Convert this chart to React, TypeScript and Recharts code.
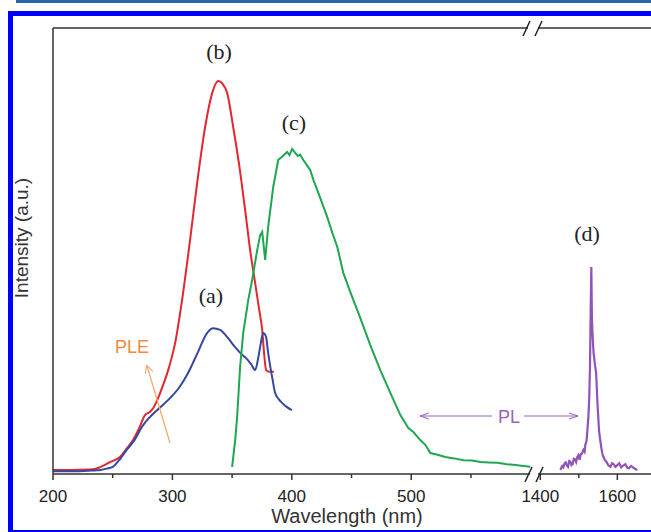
import React from "react";
import { LineChart, Line, XAxis, YAxis } from "recharts";

// wavelength (nm) / intensity (a.u., 0-100)
const redWl = [200, 215, 230, 235, 240, 248, 256, 262, 267, 272, 277, 281, 284, 288, 292, 296, 302.3, 308.1, 314.8, 320.7, 327.4, 333.3, 338.3, 342, 345.9, 350.9, 355.9, 360.9, 365.1, 369.3, 372.7, 375.2, 376.9, 378.5, 381, 385];
const redInt = [0.9, 0.9, 1.0, 1.1, 1.6, 2.7, 3.8, 5.8, 7.6, 10.2, 13.2, 13.9, 14.8, 17.0, 19.8, 22.9, 29.4, 39.0, 52.5, 65.2, 77.8, 85.4, 88.1, 87.5, 85.4, 77.8, 69.3, 59.2, 50.2, 42.8, 36.8, 32.3, 26.7, 23.3, 22.9, 22.9];

const blueWl = [200, 220, 235, 240, 245, 250, 256, 262, 268, 275, 282, 290, 298, 306, 313, 321, 329, 334, 340, 344, 348, 352, 357, 363, 366, 369.3, 371.5, 373.5, 376, 378.5, 380, 382, 384, 386, 389, 392, 396, 400];
const blueInt = [0.6, 0.6, 0.8, 0.9, 1.2, 1.6, 3.3, 5.5, 7.5, 10.8, 13.0, 15.0, 17.0, 19.5, 22.6, 27.1, 31.6, 32.7, 32.3, 31.3, 30.0, 28.6, 27.1, 25.6, 24.6, 23.3, 25.5, 28.5, 31.6, 30.7, 27.5, 24.0, 21.0, 18.2, 16.8, 15.9, 15.0, 14.3];

const greenWl = [350, 352.6, 354.2, 356.7, 359.3, 363.5, 366.8, 371, 373.5, 375.2, 377.7, 380.2, 384.4, 388.6, 392, 396.1, 398, 400.3, 402.8, 405, 407, 409.6, 412.5, 415.4, 418, 421.3, 425, 429.7, 434, 438.1, 443.1, 449, 457.3, 465.7, 474.1, 482.5, 490.9, 497.6, 501.8, 507.6, 512, 516, 522, 528.6, 536, 543.7, 551, 558, 565, 572.2, 580, 587.3, 594, 599.8];
const greenInt = [1.6, 7.6, 12.8, 24.0, 31.6, 39.0, 43.5, 50.2, 53.5, 54.3, 48.0, 55.4, 64.3, 70.4, 71.2, 72.2, 71.5, 72.9, 72.0, 71.3, 71.6, 70.4, 69.3, 68.2, 66.0, 63.7, 61.0, 57.6, 54.0, 50.9, 45.1, 40.8, 35.0, 28.9, 23.3, 18.2, 13.2, 10.3, 9.4, 7.6, 6.5, 4.7, 4.3, 3.8, 3.5, 3.1, 3.0, 2.7, 2.6, 2.5, 2.2, 2.0, 1.8, 1.6];

const purpleWl = [1452, 1457, 1460, 1463, 1466, 1469, 1472, 1475, 1478, 1481, 1484, 1487, 1490, 1493, 1496, 1499, 1502, 1505, 1508, 1512, 1515, 1517, 1520, 1522, 1525, 1527, 1529, 1531, 1532.5, 1534, 1535.5, 1537, 1538.5, 1540, 1542, 1545, 1548, 1551, 1553, 1556, 1558, 1561, 1564, 1568, 1572, 1577, 1582, 1586, 1590, 1595, 1600, 1605, 1610, 1615, 1621, 1626, 1630, 1636, 1642, 1647, 1652];
const purpleInt = [0.9, 1.8, 1.5, 2.4, 2.6, 1.9, 1.6, 2.9, 2.8, 2.0, 2.2, 3.4, 3.3, 2.7, 3.8, 4.2, 3.2, 4.4, 4.6, 5.4, 5.0, 6.6, 7.4, 9.5, 13.0, 17.0, 24.0, 38.0, 46.4, 35.0, 31.6, 29.0, 27.0, 26.0, 24.4, 22.6, 16.6, 12.0, 9.2, 7.4, 6.1, 4.6, 3.8, 3.1, 2.7, 1.9, 1.6, 2.4, 2.2, 1.6, 2.0, 2.4, 1.5, 1.9, 2.2, 1.4, 1.3, 1.8, 1.4, 1.1, 0.9];

const majorTicks = [200, 300, 400, 500, 1400, 1600];
const minorTicks = [250, 350, 450, 550, 1500];

// broken axis: 200-600 nm on the left, 1400-1700 nm compressed on the right
const BREAK_AT = 608.1;
const RIGHT_SCALE = 0.3226;
const toAxis = (w: number) => (w >= 1400 ? BREAK_AT + (w - 1400) * RIGHT_SCALE : w);
const fromAxis = (u: number) =>
  u > BREAK_AT - 0.5 ? Math.round(1400 + (u - BREAK_AT) / RIGHT_SCALE) : Math.round(u);

const toSeries = (wl: number[], iv: number[]) => wl.map((w, i) => ({ u: toAxis(w), v: iv[i] }));

const redData = toSeries(redWl, redInt);
const blueData = toSeries(blueWl, blueInt);
const greenData = toSeries(greenWl, greenInt);
const purpleData = toSeries(purpleWl, purpleInt);
const axisTicks = [...majorTicks, ...minorTicks].map(toAxis).sort((a, b) => a - b);

const SANS = "'Liberation Sans', Arial, sans-serif";
const SERIF = "'Liberation Serif', 'Times New Roman', serif";

const WaveTick = (props: any) => {
  const { x, y, payload } = props;
  const label = fromAxis(payload.value);
  const major = majorTicks.includes(label);
  return (
    <g>
      <line x1={x} x2={x} y1={y} y2={y + (major ? 6 : 4)} stroke="#333" strokeWidth={1.5} />
      {major && (
        <text x={x} y={y + 28} textAnchor="middle" fontSize={17} fill="#222" fontFamily={SANS}>
          {label}
        </text>
      )}
    </g>
  );
};

export default function App() {
  return (
    <div style={{ position: "fixed", left: 0, top: 0, width: 651, height: 532, overflow: "hidden", background: "#fff" }}>
      {/* page frame */}
      <div style={{ position: "absolute", left: 16, top: 0, width: 640, height: 3, background: "#2a64ad" }} />
      <div style={{ position: "absolute", left: 8, top: 11, width: 650, height: 5, background: "#0000ff" }} />
      <div style={{ position: "absolute", left: 8, top: 11, width: 5, height: 530, background: "#0000ff" }} />
      <div style={{ position: "absolute", left: 8, top: 530, width: 650, height: 2, background: "#0000ff" }} />

      <div style={{ position: "absolute", left: 0, top: 0 }}>
        <LineChart width={680} height={532} margin={{ top: 27, right: 24, bottom: 0, left: 52 }}>
          <XAxis
            dataKey="u"
            type="number"
            domain={[200, 705]}
            allowDataOverflow
            ticks={axisTicks}
            interval={0}
            tickSize={0}
            tickMargin={0}
            tickLine={false}
            tick={<WaveTick />}
            height={58}
            axisLine={{ stroke: "#333", strokeWidth: 1.5 }}
          />
          <XAxis
            xAxisId="top"
            dataKey="u"
            orientation="top"
            type="number"
            domain={[200, 705]}
            allowDataOverflow
            tick={false}
            tickLine={false}
            height={1}
            axisLine={{ stroke: "#333", strokeWidth: 1.5 }}
          />
          <YAxis
            type="number"
            domain={[0, 100]}
            allowDataOverflow
            tick={false}
            tickLine={false}
            width={1}
            axisLine={{ stroke: "#333", strokeWidth: 1.5 }}
          />
          <Line data={redData} dataKey="v" type="monotone" stroke="#e3262f" strokeWidth={2} dot={false} isAnimationActive={false} />
          <Line data={blueData} dataKey="v" type="monotone" stroke="#3548a0" strokeWidth={2} dot={false} isAnimationActive={false} />
          <Line data={greenData} dataKey="v" type="linear" stroke="#1fa650" strokeWidth={2} dot={false} isAnimationActive={false} />
          <Line data={purpleData} dataKey="v" type="linear" stroke="#9054b8" strokeWidth={2.2} dot={false} isAnimationActive={false} />
        </LineChart>
      </div>

      {/* labels and annotations */}
      <svg width={651} height={532} style={{ position: "absolute", left: 0, top: 0, pointerEvents: "none" }}>
        <defs>
          <marker id="arrOrange" markerWidth="8" markerHeight="8" refX="7" refY="4" orient="auto" markerUnits="userSpaceOnUse">
            <path d="M0,0 L8,4 L0,8" fill="none" stroke="#f3a46b" strokeWidth={1} />
          </marker>
          <marker id="arrPurple" markerWidth="10" markerHeight="8" refX="9" refY="4" orient="auto" markerUnits="userSpaceOnUse">
            <path d="M0,1 L9,4 L0,7" fill="none" stroke="#9a62bf" strokeWidth={1} />
          </marker>
        </defs>
        {/* axis breaks */}
        <rect x={530} y={471} width={8} height={6} fill="#fff" />
        <line x1={525} y1={482} x2={532} y2={467} stroke="#222" strokeWidth={1.5} />
        <line x1={536} y1={482} x2={543} y2={467} stroke="#222" strokeWidth={1.5} />
        <rect x={528} y={25} width={10} height={6} fill="#fff" />
        <line x1={523} y1={36} x2={530} y2={21} stroke="#222" strokeWidth={1.5} />
        <line x1={535} y1={36} x2={542} y2={21} stroke="#222" strokeWidth={1.5} />

        <text x={0} y={0} transform="translate(28,238) rotate(-90)" textAnchor="middle" fontSize={19} fill="#333" fontFamily={SANS}>
          Intensity (a.u.)
        </text>
        <text x={347} y={523} textAnchor="middle" fontSize={20} fill="#333" fontFamily={SANS}>
          Wavelength (nm)
        </text>

        <text x={219} y={59} textAnchor="middle" fontSize={22} fill="#222" fontFamily={SERIF}>(b)</text>
        <text x={294} y={130} textAnchor="middle" fontSize={22} fill="#222" fontFamily={SERIF}>(c)</text>
        <text x={211} y={303} textAnchor="middle" fontSize={22} fill="#222" fontFamily={SERIF}>(a)</text>
        <text x={587} y={241} textAnchor="middle" fontSize={22} fill="#222" fontFamily={SERIF}>(d)</text>

        <text x={115} y={353} fontSize={18} fill="#f08b3e" fontFamily={SANS}>PLE</text>
        <line x1={170} y1={443} x2={147} y2={366} stroke="#f3a46b" strokeWidth={1.2} markerEnd="url(#arrOrange)" />

        <text x={509} y={423} textAnchor="middle" fontSize={18} fill="#9a62bf" fontFamily={SANS}>PL</text>
        <line x1={492} y1={416} x2={420} y2={416} stroke="#9a62bf" strokeWidth={1} markerEnd="url(#arrPurple)" />
        <line x1={524} y1={416} x2={578} y2={416} stroke="#9a62bf" strokeWidth={1} markerEnd="url(#arrPurple)" />
      </svg>
    </div>
  );
}
